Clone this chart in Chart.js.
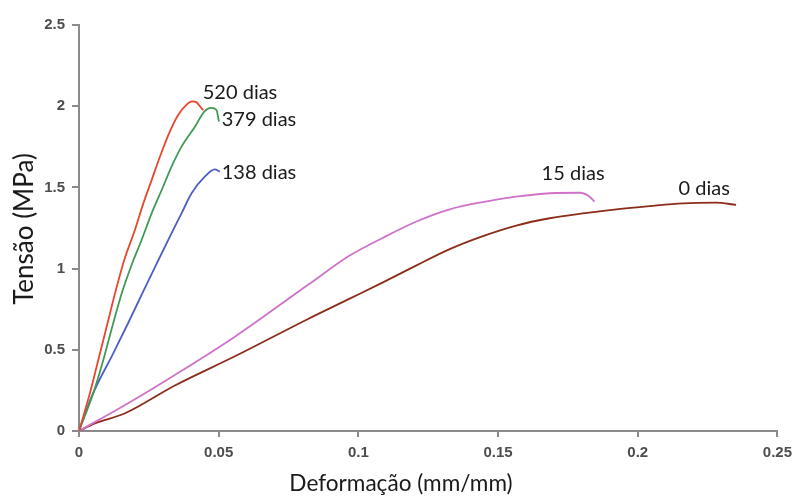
<!DOCTYPE html>
<html>
<head>
<meta charset="utf-8">
<script src="https://cdn.jsdelivr.net/npm/chart.js@4"></script>
<style>
  html, body { margin: 0; padding: 0; background: #fff; }
  #wrap { width: 799px; height: 497px; }
</style>
</head>
<body>
<div id="wrap"><canvas id="stressChart" width="799" height="497"></canvas></div>
<script>
// Curves (strain mm/mm, stress MPa)
const x520 = [0, 0.0039, 0.0069, 0.0099, 0.0129, 0.0162, 0.020, 0.023, 0.026, 0.029, 0.0325, 0.0355, 0.0385, 0.0405, 0.042, 0.0435, 0.0445];
const y520 = [0, 0.232, 0.437, 0.642, 0.848, 1.053, 1.238, 1.40, 1.545, 1.69, 1.843, 1.946, 2.01, 2.03, 2.025, 1.995, 1.975];

const x379 = [0, 0.0051, 0.0087, 0.0119, 0.0153, 0.019, 0.0224, 0.026, 0.0296, 0.0331, 0.0367, 0.0415, 0.045, 0.0474, 0.0492, 0.0501];
const y379 = [0, 0.232, 0.437, 0.642, 0.848, 1.03, 1.176, 1.34, 1.484, 1.627, 1.751, 1.874, 1.97, 1.99, 1.977, 1.905];

const x138 = [0, 0.0045, 0.0123, 0.0176, 0.023, 0.0275, 0.0331, 0.0367, 0.0403, 0.045, 0.0486, 0.0504];
const y138 = [0, 0.211, 0.48, 0.665, 0.86, 1.02, 1.217, 1.34, 1.464, 1.566, 1.611, 1.597];

const x15 = [0, 0.0165, 0.0343, 0.0558, 0.082, 0.0969, 0.1088, 0.1208, 0.1327, 0.1446, 0.1565, 0.1685, 0.1792, 0.1828, 0.1845];
const y15 = [0, 0.16, 0.345, 0.581, 0.9, 1.08, 1.19, 1.29, 1.365, 1.41, 1.443, 1.464, 1.467, 1.443, 1.412];

const x0 = [0, 0.0057, 0.0165, 0.0343, 0.0558, 0.082, 0.0969, 0.1088, 0.1208, 0.1327, 0.1446, 0.1565, 0.1685, 0.1804, 0.1923, 0.2042, 0.2161, 0.228, 0.2352];
const y0 = [0, 0.047, 0.109, 0.28, 0.46, 0.69, 0.815, 0.915, 1.02, 1.12, 1.20, 1.265, 1.31, 1.34, 1.365, 1.385, 1.402, 1.406, 1.392];

const seriesNames = ['520 dias', '379 dias', '138 dias', '15 dias', '0 dias'];
const seriesColors = ['#e8472d', '#3f9a55', '#4d5ec4', '#cf72c9', '#8c2d1a'];
// label anchor (left edge, vertical middle) in data units
const labelX = [0.0443, 0.0511, 0.0511, 0.1656, 0.2146];
const labelY = [2.087, 1.92, 1.589, 1.583, 1.496];

const xTicks = [0, 0.05, 0.1, 0.15, 0.2, 0.25];
const yTicks = [0, 0.5, 1, 1.5, 2, 2.5];

const xs = [x520, x379, x138, x15, x0];
const ys = [y520, y379, y138, y15, y0];

const datasets = seriesNames.map((name, i) => ({
    label: name,
    data: xs[i].map((v, j) => ({x: v, y: ys[i][j]})),
    borderColor: seriesColors[i],
    borderWidth: 1.8,
    pointRadius: 0,
    cubicInterpolationMode: 'monotone',
    fill: false
}));

const annotate = {
    id: 'annotate',
    afterDraw(chart) {
        const c = chart.ctx;
        const sx = chart.scales.x, sy = chart.scales.y;
        c.save();
        c.fillStyle = '#1a1a1a';
        c.font = '20px Lato';
        c.textBaseline = 'middle';
        c.textAlign = 'left';
        seriesNames.forEach((name, i) => {
            c.fillText(name, sx.getPixelForValue(labelX[i]), sy.getPixelForValue(labelY[i]));
        });
        // axis titles
        c.font = '22.6px Lato';
        c.textAlign = 'center';
        c.fillText('Deformação (mm/mm)', 401, 484);
        c.font = '26px Lato';
        c.translate(25, 229);
        c.rotate(-Math.PI / 2);
        c.fillText('Tensão (MPa)', 0, 0);
        c.restore();
    }
};

const ctx = document.getElementById('stressChart').getContext('2d');
new Chart(ctx, {
    type: 'line',
    data: { datasets: datasets },
    options: {
        responsive: false,
        animation: false,
        layout: { padding: { top: 25, right: 21, left: 0, bottom: 0 } },
        plugins: { legend: { display: false }, tooltip: { enabled: false } },
        scales: {
            x: {
                type: 'linear',
                min: 0, max: 0.25,
                afterBuildTicks: s => { s.ticks = xTicks.map(v => ({value: v})); },
                afterFit: s => { s.height = 66; },
                grid: { drawOnChartArea: false, drawTicks: true, tickLength: 6, color: '#8a8a8a', lineWidth: 2 },
                border: { color: '#8a8a8a', width: 2 },
                ticks: { color: '#4d4d4d', padding: 7, maxRotation: 0, font: { family: 'Liberation Sans', size: 15, weight: 'bold' },
                         callback: v => String(v) }
            },
            y: {
                min: 0, max: 2.5,
                afterBuildTicks: s => { s.ticks = yTicks.map(v => ({value: v})); },
                afterFit: s => { s.width = 79; },
                grid: { drawOnChartArea: false, drawTicks: true, tickLength: 7, color: '#8a8a8a', lineWidth: 2 },
                border: { color: '#8a8a8a', width: 2 },
                ticks: { color: '#4d4d4d', padding: 7, font: { family: 'Liberation Sans', size: 15, weight: 'bold' },
                         callback: v => String(v) }
            }
        }
    },
    plugins: [annotate]
});
</script>
</body>
</html>
